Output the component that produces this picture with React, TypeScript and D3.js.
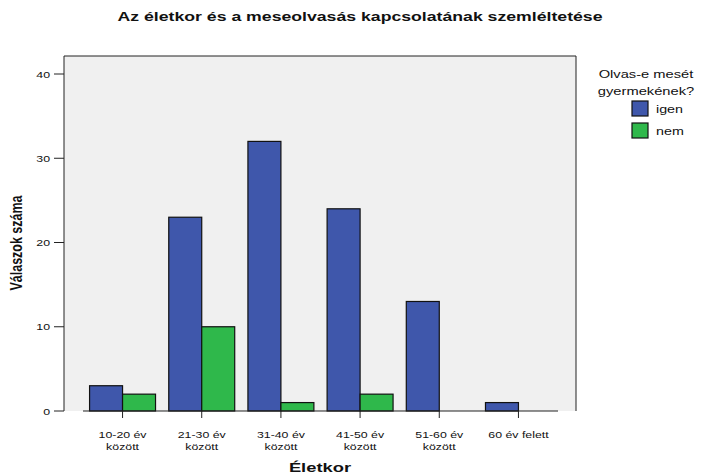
import React, { useEffect, useRef } from "react";
import * as d3 from "d3";

const ageGroups = ["10-20 év|között", "21-30 év|között", "31-40 év|között", "41-50 év|között", "51-60 év|között", "60 év felett"];
const igenValues = [3, 23, 32, 24, 13, 1];
const nemValues = [2, 10, 1, 2, 0, 0];
const seriesNames = ["igen", "nem"];
const seriesColors = ["#3f57ab", "#2fb84b"];
const yTicks = [0, 10, 20, 30, 40];

const FONT = "Arial, 'Liberation Sans', sans-serif";
// the source picture was stretched sideways, so all text is wider than normal
const SX = 1.3;

const App: React.FC = () => {
  const svgRef = useRef<SVGSVGElement | null>(null);

  useEffect(() => {
    if (!svgRef.current) return;
    const svg = d3.select(svgRef.current);
    svg.selectAll("*").remove();

    const frame = { left: 64, right: 576, top: 56, bottom: 411 };

    const addText = (x: number, y: number, txt: string, size: number, anchor: string, bold = false, sx = SX) =>
      svg.append("text")
        .attr("transform", `translate(${x},${y}) scale(${sx},1)`)
        .attr("text-anchor", anchor)
        .style("font", `${bold ? "bold " : ""}${size}px ${FONT}`)
        .attr("fill", "#111")
        .text(txt);

    const x = d3.scaleBand<string>().domain(ageGroups).range([83, 558]).paddingInner(0.167).paddingOuter(0.083);
    const xSub = d3.scaleBand<string>().domain(seriesNames).range([0, x.bandwidth()]);
    const y = d3.scaleLinear().domain([0, 40]).range([frame.bottom, 74]);

    addText(360, 21, "Az életkor és a meseolvasás kapcsolatának szemléltetése", 13, "middle", true, 1.36);

    // plot background
    svg.append("rect")
      .attr("x", frame.left).attr("y", frame.top)
      .attr("width", frame.right - frame.left).attr("height", frame.bottom - frame.top)
      .attr("fill", "#f0f0f0");
    svg.append("path")
      .attr("d", `M${frame.left},${frame.bottom}V${frame.top}H${frame.right}V${frame.bottom}`)
      .attr("fill", "none").attr("stroke", "#222").attr("stroke-width", 1);

    const table = ageGroups.map((g, i) => ({ group: g, values: [igenValues[i], nemValues[i]] }));

    const groups = svg.append("g").selectAll("g")
      .data(table).enter().append("g")
      .attr("transform", d => `translate(${x(d.group)},0)`);

    groups.selectAll("rect")
      .data(d => d.values.map((v, j) => ({ key: seriesNames[j], value: v, color: seriesColors[j] })))
      .enter().append("rect")
      .attr("x", d => xSub(d.key) ?? 0)
      .attr("y", d => y(d.value))
      .attr("width", xSub.bandwidth())
      .attr("height", d => y(0) - y(d.value))
      .attr("fill", d => d.color)
      .attr("stroke", "#111").attr("stroke-width", 1.2);

    // baseline
    svg.append("line")
      .attr("x1", 83).attr("x2", 558)
      .attr("y1", y(0)).attr("y2", y(0))
      .attr("stroke", "#222").attr("stroke-width", 1.2);

    // y axis
    yTicks.forEach(t => {
      svg.append("line")
        .attr("x1", 54).attr("x2", frame.left)
        .attr("y1", y(t)).attr("y2", y(t))
        .attr("stroke", "#222");
      addText(50, y(t) + 3.5, String(t), 9.5, "end", false, 1.3);
    });

    svg.append("text")
      .attr("transform", `translate(22,243) rotate(-90) scale(1,${SX})`)
      .attr("text-anchor", "middle")
      .style("font", `bold 12.5px ${FONT}`)
      .attr("fill", "#111")
      .text("Válaszok száma");

    // x axis ticks and labels
    ageGroups.forEach(g => {
      const cx = (x(g) ?? 0) + x.bandwidth() / 2;
      svg.append("line")
        .attr("x1", cx).attr("x2", cx)
        .attr("y1", y(0)).attr("y2", y(0) + 7)
        .attr("stroke", "#222");
      g.split("|").forEach((line, k) => addText(cx, 438 + k * 12, line, 9.5, "middle"));
    });

    addText(320, 472, "Életkor", 13.5, "middle", true, 1.36);

    // legend
    ["Olvas-e mesét", "gyermekének?"].forEach((t, k) => addText(646, 78 + k * 17, t, 11.5, "middle", false, 1.28));
    seriesNames.forEach((s, k) => {
      svg.append("rect")
        .attr("x", 632).attr("y", 101 + k * 22)
        .attr("width", 16).attr("height", 15)
        .attr("fill", seriesColors[k])
        .attr("stroke", "#111").attr("stroke-width", 1.2);
      addText(656, 113 + k * 22, s, 11, "start");
    });
  }, []);

  return <svg ref={svgRef} width={721} height={475} style={{ display: "block", position: "absolute", left: 0, top: 0, background: "#fff" }}></svg>;
};

export default App;
